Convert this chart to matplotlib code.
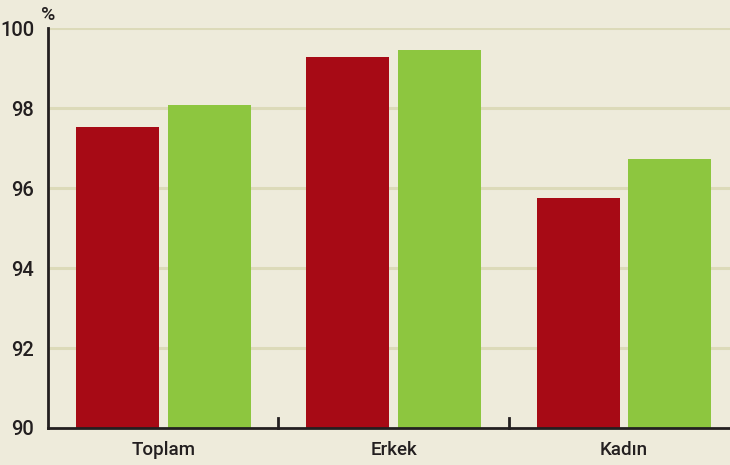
import matplotlib
matplotlib.use("Agg")
import matplotlib.pyplot as plt
import numpy as np

categories = ["Toplam", "Erkek", "Kadın"]
series_red = [97.53, 99.28, 95.75]
series_green = [98.08, 99.45, 96.73]
yticks = [90, 92, 94, 96, 98, 100]

bg = "#EEEBDB"
red = "#A70A15"
green = "#8DC63F"
grid = "#DCDAB9"
txt = "#231F20"

plt.rcParams['font.family'] = ['Roboto', 'DejaVu Sans']

fig = plt.figure(figsize=(7.30, 4.65), dpi=100)
fig.patch.set_facecolor(bg)
ax = fig.add_axes([48/730, 1-428/465, 1-48/730, (428-28.5)/465])
ax.set_facecolor(bg)

x = np.arange(len(categories))
w = 0.36
off = 0.199
ax.bar(x - off, [v - 90 for v in series_red], w, bottom=90, color=red, zorder=3)
ax.bar(x + off, [v - 90 for v in series_green], w, bottom=90, color=green, zorder=3)

ax.set_ylim(90, 100)
ax.set_xlim(-0.5, 2.46)
ax.set_yticks(yticks)
ax.set_yticklabels([str(t) for t in yticks], fontsize=14.5, color=txt, fontweight='medium')
for t in yticks[1:]:
    ax.axhline(t, color=grid, lw=2.2, zorder=1)

ax.set_xticks(x)
ax.set_xticklabels(categories, fontsize=13.5, color=txt, fontweight='medium')
ax.tick_params(axis='x', length=0, pad=9)
ax.tick_params(axis='y', length=0, pad=10)
for b in [0.5, 1.5]:
    ax.plot([b, b], [90, 90.25], color=txt, lw=2, zorder=4, clip_on=False)

for s in ['top', 'right']:
    ax.spines[s].set_visible(False)
for s in ['left', 'bottom']:
    ax.spines[s].set_color(txt)
    ax.spines[s].set_linewidth(2)
    ax.spines[s].set_zorder(5)

fig.text(41/730, 1-15/465, "%", fontsize=14, color=txt, fontweight='medium', ha='left', va='center')

fig.savefig("out.png", dpi=100, facecolor=bg)
